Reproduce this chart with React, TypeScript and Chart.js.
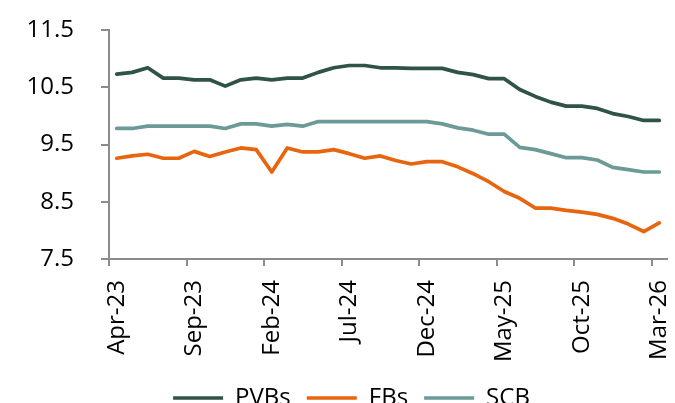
import React, { useEffect, useRef } from "react";
import { Chart, registerables } from "chart.js";

Chart.register(...registerables);

const categories = [
  "Apr-23","May-23","Jun-23","Jul-23","Aug-23","Sep-23","Oct-23","Nov-23","Dec-23",
  "Jan-24","Feb-24","Mar-24","Apr-24","May-24","Jun-24","Jul-24","Aug-24","Sep-24",
  "Oct-24","Nov-24","Dec-24","Jan-25","Feb-25","Mar-25","Apr-25","May-25","Jun-25",
  "Jul-25","Aug-25","Sep-25","Oct-25","Nov-25","Dec-25","Jan-26","Feb-26","Mar-26",
];

const pvbs = [
  10.73, 10.76, 10.84, 10.66, 10.66, 10.63, 10.63, 10.52, 10.63, 10.66, 10.63, 10.66,
  10.66, 10.76, 10.84, 10.88, 10.88, 10.84, 10.84, 10.83, 10.83, 10.83, 10.76, 10.72,
  10.65, 10.65, 10.46, 10.34, 10.24, 10.17, 10.17, 10.13, 10.04, 9.99, 9.92, 9.92,
];

const fbs = [
  9.26, 9.3, 9.33, 9.26, 9.26, 9.38, 9.29, 9.37, 9.44, 9.41, 9.02, 9.44,
  9.37, 9.37, 9.41, 9.34, 9.26, 9.3, 9.22, 9.16, 9.2, 9.2, 9.11, 8.99,
  8.85, 8.68, 8.56, 8.39, 8.39, 8.35, 8.32, 8.28, 8.21, 8.11, 7.98, 8.13,
];

const scb = [
  9.78, 9.78, 9.82, 9.82, 9.82, 9.82, 9.82, 9.78, 9.86, 9.86, 9.82, 9.85,
  9.82, 9.9, 9.9, 9.9, 9.9, 9.9, 9.9, 9.9, 9.9, 9.86, 9.79, 9.75,
  9.68, 9.68, 9.45, 9.41, 9.34, 9.27, 9.27, 9.23, 9.1, 9.06, 9.02, 9.02,
];

const yTicks = [7.5, 8.5, 9.5, 10.5, 11.5];
const labelEvery = 5;

const FONT = "'Open Sans', 'Noto Sans', sans-serif";
const AXIS_COLOR = "#8c8c8c";
const AXIS_X = 109;
const LEGEND_SHIFT = 18;
const TICK_LEN = 7;

const legendShift = {
  id: "legendShift",
  afterLayout(chart: any) {
    const lg = chart.legend;
    if (lg) {
      lg.left += LEGEND_SHIFT;
      lg.right += LEGEND_SHIFT;
    }
  },
};

const yTickMarks = {
  id: "yTickMarks",
  afterDatasetsDraw(chart: any) {
    const y = chart.scales.y;
    if (!y) return;
    const ctx = chart.ctx;
    const xr = chart.chartArea.left;
    ctx.save();
    ctx.fillStyle = AXIS_COLOR;
    yTicks.forEach((v) => {
      const py = y.getPixelForValue(v);
      ctx.fillRect(xr - TICK_LEN - 1, Math.round(py) - 1, TICK_LEN + 1, 2);
    });
    ctx.restore();
  },
};

export default function App() {
  const ref = useRef<HTMLCanvasElement | null>(null);

  useEffect(() => {
    if (!ref.current) return;
    const mk = (label: string, data: number[], color: string) => ({
      label,
      data,
      borderColor: color,
      backgroundColor: color,
      borderWidth: 3.7,
      pointRadius: 0,
      tension: 0,
      borderCapStyle: "round" as const,
      borderJoinStyle: "round" as const,
    });
    const chart = new Chart(ref.current, {
      type: "line",
      data: {
        labels: categories,
        datasets: [
          mk("PVBs", pvbs, "#2f5347"),
          mk("FBs", fbs, "#e8650f"),
          mk("SCB", scb, "#6b9a97"),
        ],
      },
      plugins: [legendShift, yTickMarks],
      options: {
        animation: false,
        responsive: false,
        maintainAspectRatio: false,
        layout: { padding: { left: 0, right: 8, top: 30, bottom: 0 } },
        plugins: {
          tooltip: { enabled: false },
          legend: {
            position: "bottom",
            labels: {
              usePointStyle: true,
              pointStyle: "line",
              pointStyleWidth: 50,
              boxHeight: 24,
              color: "#000",
              padding: 16,
              font: { family: FONT, size: 24 },
            },
          },
        },
        scales: {
          x: {
            offset: true,
            afterFit: (s: any) => {
              s.paddingLeft = 0;
              s.paddingRight = 0;
              s.height = 111;
            },
            grid: {
              offset: true,
              drawOnChartArea: false,
              drawTicks: true,
              tickLength: TICK_LEN,
              lineWidth: 2,
              color: (ctx: any) =>
                typeof ctx.index === "number" && ctx.index % labelEvery === 0
                  ? AXIS_COLOR
                  : "rgba(0,0,0,0)",
            },
            border: { display: true, color: AXIS_COLOR, width: 2 },
            ticks: {
              autoSkip: false,
              maxRotation: 90,
              minRotation: 90,
              padding: 14,
              color: "#000",
              font: { family: FONT, size: 24 },
              callback: (_v: any, i: number) =>
                i % labelEvery === 0 ? categories[i] : "",
            },
          },
          y: {
            min: 7.5,
            max: 11.5,
            afterBuildTicks: (axis: any) => {
              axis.ticks = yTicks.map((v) => ({ value: v }));
            },
            afterFit: (s: any) => {
              s.width = AXIS_X;
              s.paddingTop = 0;
              s.paddingBottom = 0;
            },
            grid: {
              display: true,
              drawOnChartArea: false,
              drawTicks: true,
              tickLength: TICK_LEN,
              lineWidth: 2,
              color: AXIS_COLOR,
            },
            border: { display: true, color: AXIS_COLOR, width: 2 },
            ticks: {
              padding: 28,
              color: "#000",
              font: { family: FONT, size: 24 },
              callback: (v: any) => Number(v).toFixed(1),
            },
          },
        },
      },
    });
    return () => chart.destroy();
  }, []);

  return (
    <div style={{ position: "fixed", left: 0, top: 0, width: 675, height: 420, background: "#fff" }}>
      <canvas ref={ref} width={675} height={420} style={{ display: "block" }} />
    </div>
  );
}
